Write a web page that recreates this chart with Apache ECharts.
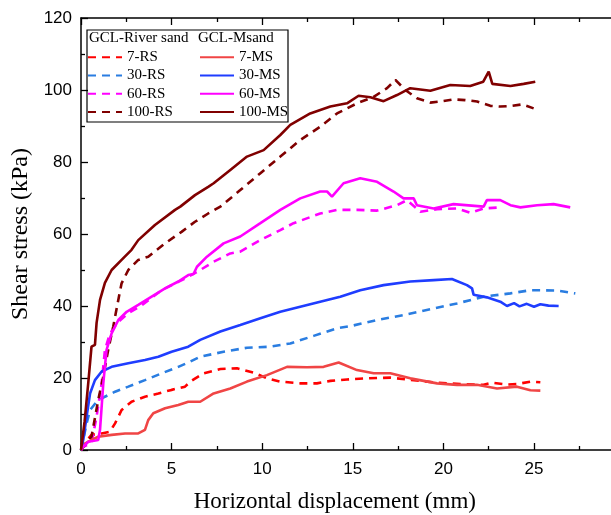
<!DOCTYPE html>
<html>
<head>
<meta charset="utf-8">
<script src="https://cdn.jsdelivr.net/npm/echarts@6/dist/echarts.min.js"></script>
<style>html,body{margin:0;padding:0;background:#fff}#c{width:611px;height:515px}</style>
</head>
<body>
<div id="c"></div>
<script>
// ---- data (x: horizontal displacement mm, y: shear stress kPa) ----
const rs7 = [[0,0],[0.13,1.5],[0.58,4.2],[1.14,4.6],[1.6,5.1],[1.88,7.4],[2.24,11.1],[2.79,13.4],[3.53,14.8],[4.27,15.7],[5,16.7],[5.74,17.6],[6.03,19],[6.77,21.3],[7.69,22.5],[8.61,22.7],[9.53,21.5],[10.26,19.9],[11,19],[12.1,18.5],[13.02,18.5],[13.76,19.2],[14.68,19.6],[15.78,19.9],[17.07,20.1],[18.36,19.4],[19.65,18.7],[20.93,18.3],[22.22,18.1],[22.68,18.7],[23.51,18.2],[24.06,18.3],[24.8,19],[25.35,18.8]];
const rs30 = [[0,0],[0.13,3],[0.31,7.4],[0.5,11.1],[0.86,13.4],[1.32,14.8],[1.88,16.2],[2.61,17.6],[3.53,19.4],[4.45,21.3],[5.37,23.1],[5.92,24.3],[6.58,25.9],[7.87,27.3],[9.16,28.4],[10.45,28.7],[11.55,29.6],[12.84,31.7],[14.13,33.8],[14.86,34.4],[16.34,36.1],[17.8,37.5],[19.28,39.1],[20.75,40.7],[22.22,42.6],[23.7,43.5],[24.8,44.4],[26.27,44.3],[27.28,43.5]];
const rs60 = [[0,0],[0.13,0.9],[0.58,1.9],[0.86,9.3],[1.14,18.5],[1.32,27.8],[1.6,32.4],[2.06,35.6],[2.61,38],[3.3,40],[4.45,44.4],[5.92,48.1],[6.58,50],[7.32,52.3],[8.24,54.6],[8.79,55.1],[9.9,58.3],[11,61.1],[11.73,63],[13.2,65.7],[14.13,66.7],[15.23,66.7],[16.34,66.5],[17.44,68],[17.99,69.4],[18.73,66.2],[19.65,66.9],[20.75,67.1],[21.48,65.9],[22.22,67.1],[23.14,67.4]];
const rs100 = [[0,0],[0.58,3.7],[0.95,13.9],[1.23,20.4],[1.5,27.8],[1.78,34.3],[1.97,39.4],[2.24,46.3],[2.61,50],[3.16,52.8],[3.71,53.7],[4.64,57.4],[5.55,60.6],[6.29,63.4],[7.02,65.7],[7.69,67.6],[8.79,72.2],[9.9,76.9],[11,81.5],[12.1,86.1],[13.2,89.8],[14.13,93.5],[15.23,96.3],[16.15,98.1],[16.89,100.5],[17.35,102.8],[17.9,100],[18.54,97.7],[19.28,96.5],[19.83,96.8],[20.56,97.4],[21.2,97.2],[21.86,96.8],[22.59,95.6],[23.14,95.4],[23.79,95.6],[24.34,96],[24.98,94.9]];
const ms7 = [[0,0],[0.13,1.5],[0.4,2.3],[0.95,3.7],[1.69,4.2],[2.43,4.6],[3.16,4.6],[3.53,5.6],[3.71,8.3],[3.99,10.2],[4.64,11.6],[5.37,12.5],[5.92,13.4],[6.58,13.4],[7.32,15.7],[8.24,17.1],[9.16,19],[10.26,20.8],[11.37,23.1],[12.47,23],[13.39,23.1],[14.22,24.3],[15.23,22.2],[16.15,21.3],[17.07,21.3],[18.17,19.9],[19.65,18.5],[20.75,18.1],[21.85,18.1],[22.96,17.1],[24.06,17.6],[24.8,16.6],[25.35,16.5]];
const ms30 = [[0,0],[0.13,3],[0.31,9.3],[0.5,15.7],[0.77,19.4],[1.14,21.8],[1.69,23.1],[2.61,24.1],[3.53,25],[4.27,25.9],[5,27.3],[5.92,28.7],[6.58,30.6],[7.69,32.9],[8.79,34.7],[9.9,36.6],[11,38.4],[12.1,39.8],[13.2,41.2],[14.31,42.6],[15.41,44.4],[16.7,45.8],[18.17,46.8],[19.46,47.2],[20.47,47.5],[21.3,45.8],[21.58,44.9],[21.67,43.1],[22.4,42.4],[23.14,41.2],[23.51,40],[23.9,40.8],[24.2,39.9],[24.6,40.6],[25,39.8],[25.35,40.5],[25.8,40.1],[26.36,40]];
const ms60 = [[0,0],[0.13,0.9],[0.4,2.3],[0.95,2.8],[1.05,5.6],[1.23,18.5],[1.41,27.8],[1.69,32.4],[2.06,36.1],[2.52,38.4],[3.16,40.3],[3.9,42.6],[4.64,44.9],[5.37,46.8],[5.92,48.6],[6.21,48.9],[6.4,50.9],[6.95,53.7],[7.87,57.4],[8.79,59.3],[9.9,63],[11,66.7],[12.1,69.9],[13.2,71.8],[13.58,71.8],[13.85,70.4],[14.49,74.1],[15.41,75.5],[16.34,74.5],[17.25,71.8],[17.8,69.9],[18.36,69.9],[18.54,68],[19.46,67.1],[20.56,68.3],[22.22,67.6],[22.4,69.4],[23.14,69.4],[23.7,68],[24.25,67.4],[25.17,68],[26.08,68.3],[27,67.4]];
const ms100 = [[0,0],[0.2,8],[0.4,18.6],[0.58,28.7],[0.77,29.2],[0.86,35.3],[1.05,41.7],[1.32,46.4],[1.69,50],[2.24,52.8],[2.79,55.6],[3.16,58.3],[4.08,62.5],[5.19,66.7],[5.48,67.6],[6.29,70.8],[7.02,73.1],[7.32,74.1],[8.24,77.8],[9.16,81.5],[10.08,83.3],[11,87.5],[11.55,90.3],[12.65,93.5],[13.76,95.4],[14.68,96.3],[15.32,98.4],[15.97,98],[16.7,96.9],[17.44,98.6],[18.17,100.5],[19.28,99.8],[20.38,101.4],[21.48,101.1],[22.2,102.3],[22.5,105.1],[22.7,101.7],[23.7,101.1],[24.43,101.7],[25.07,102.3]];

const rsNames = ['7-RS','30-RS','60-RS','100-RS'];
const msNames = ['7-MS','30-MS','60-MS','100-MS'];
const groupTitles = ['GCL-River sand','GCL-Msand'];
const xTitle = 'Horizontal displacement (mm)';
const yTitle = 'Shear stress (kPa)';

const rsColors = ['#ff0000','#2a7de1','#ff00ff','#800000'];
const msColors = ['#f04545','#1f3dff','#ff00ff','#800000'];
const rsData = [rs7, rs30, rs60, rs100];
const msData = [ms7, ms30, ms60, ms100];

const series = [];
rsData.forEach((d,i)=>series.push({name:rsNames[i],type:'line',data:d,symbol:'none',
  lineStyle:{color:rsColors[i],width:2.6,type:[8,6]},itemStyle:{color:rsColors[i]},z:2}));
msData.forEach((d,i)=>series.push({name:msNames[i],type:'line',data:d,symbol:'none',
  lineStyle:{color:msColors[i],width:2.6},itemStyle:{color:msColors[i]},z:3}));

const serif = '"Liberation Serif","Times New Roman",serif';
const sans = '"Liberation Sans",Arial,sans-serif';
const axisCommon = {
  axisLine:{lineStyle:{color:'#000',width:1.5}},
  axisTick:{inside:true,length:7,lineStyle:{color:'#000',width:1.3}},
  minorTick:{show:true,splitNumber:2,length:4,lineStyle:{color:'#000',width:1.3}},
  splitLine:{show:false}
};
const legendCommon = {orient:'vertical',itemWidth:34,itemHeight:14,itemGap:3.3,padding:0,
  itemStyle:{opacity:0},
  textStyle:{fontFamily:serif,fontSize:15,color:'#000'},selectedMode:false};

const XMAX = 30;
const chart = echarts.init(document.getElementById('c'),null,{renderer:'canvas'});
chart.setOption({
  animation:false,
  backgroundColor:'#fff',
  grid:{left:81,top:18,width:543.6,height:432,containLabel:false,outerBoundsMode:'none'},
  xAxis:[
    Object.assign({type:'value',min:0,max:XMAX,interval:5,position:'bottom',
      name:xTitle,nameLocation:'middle',nameGap:40,
      nameTextStyle:{fontFamily:serif,fontSize:23,color:'#000',padding:[0,36,0,0]},
      axisLabel:{fontFamily:sans,fontSize:17,color:'#000',margin:11}},axisCommon),
    Object.assign({type:'value',min:0,max:XMAX,interval:5,position:'top',
      axisLabel:{show:false}},axisCommon)
  ],
  yAxis:[
    Object.assign({type:'value',min:0,max:120,interval:20,
      name:yTitle,nameLocation:'middle',nameGap:37,
      nameTextStyle:{fontFamily:serif,fontSize:24,color:'#000'},
      axisLabel:{fontFamily:sans,fontSize:17,color:'#000',margin:9}},axisCommon)
  ],
  legend:[
    Object.assign({data:rsNames,left:87,top:49.7},legendCommon),
    Object.assign({data:msNames,left:199,top:49.7,itemWidth:33},legendCommon)
  ],
  graphic:[
    {type:'rect',shape:{x:87,y:30,width:201,height:92},style:{fill:null,stroke:'#000',lineWidth:1.2},z:10},
    {type:'text',left:89,top:31,style:{text:groupTitles[0],fontFamily:serif,fontSize:15,fill:'#000'},z:10},
    {type:'text',left:198,top:31,style:{text:groupTitles[1],fontFamily:serif,fontSize:15,fill:'#000'},z:10}
  ],
  series:series
});
</script>
</body>
</html>
